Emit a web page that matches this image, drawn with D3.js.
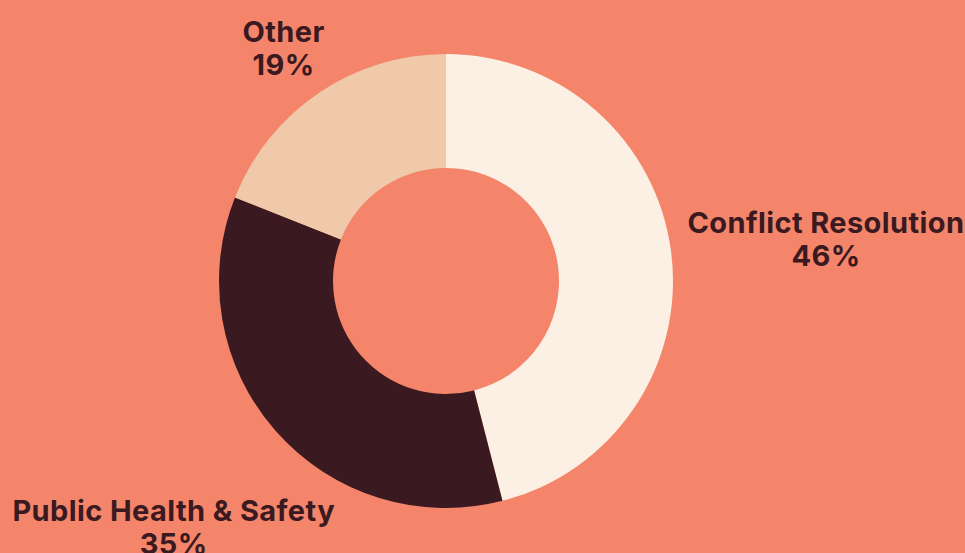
<!DOCTYPE html>
<html>
<head>
<meta charset="utf-8">
<script src="https://cdn.jsdelivr.net/npm/d3@7"></script>
<style>
  html, body { margin: 0; padding: 0; background: #F4846A; overflow: hidden; }
  svg { display: block; }
</style>
</head>
<body>
<svg id="chart" width="965" height="553"></svg>
<script>
const categories = ["Conflict Resolution", "Public Health & Safety", "Other"];
const values = [46, 35, 19];
const colors = ["#FCEFE4", "#3A1A20", "#F0C8AA"];
const labelRadii = [383, 363, 289];

const width = 965, height = 553;
const cx = 446, cy = 281;
const outerR = 227, innerR = 113;
const textColor = "#3A1A20";

const svg = d3.select("#chart");
svg.append("rect").attr("width", width).attr("height", height).attr("fill", "#F4846A");

const data = categories.map((c, i) => ({ name: c, value: values[i], color: colors[i], lr: labelRadii[i] }));
const pie = d3.pie().value(d => d.value).sort(null);
const arc = d3.arc().innerRadius(innerR).outerRadius(outerR);
const arcs = pie(data);

const g = svg.append("g").attr("transform", `translate(${cx},${cy})`);
g.selectAll("path").data(arcs).join("path")
  .attr("d", arc)
  .attr("fill", d => d.data.color);

g.selectAll("text.lab").data(arcs).join("text")
  .attr("class", "lab")
  .attr("text-anchor", "middle")
  .attr("font-family", "Inter, 'Noto Sans', sans-serif")
  .attr("font-weight", 700)
  .attr("font-size", 29)
  .attr("letter-spacing", 0.4)
  .attr("fill", textColor)
  .each(function(d) {
    const mid = (d.startAngle + d.endAngle) / 2;
    const x = d.data.lr * Math.sin(mid);
    const y = -d.data.lr * Math.cos(mid);
    const t = d3.select(this);
    t.append("tspan").attr("x", x).attr("y", y).text(d.data.name);
    t.append("tspan").attr("x", x).attr("y", y + 33).text(d.data.value + "%");
  });
</script>
</body>
</html>
